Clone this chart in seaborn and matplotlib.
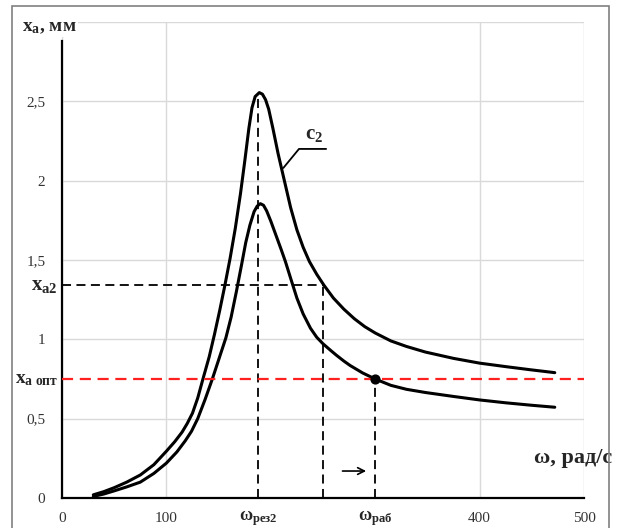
import numpy as np
import pandas as pd
import matplotlib
matplotlib.use("Agg")
import matplotlib.pyplot as plt
import matplotlib.patches as mpatches
import seaborn as sns

# amplitude curves
omega_c2 = [30, 40, 50, 62, 75, 88, 100, 108, 115, 120, 125, 130, 135, 141, 146, 151, 156,
            161, 166, 171, 175, 179, 182, 185, 189, 192, 195, 198, 202, 207, 213, 219,
            225, 231, 237, 244, 251, 260, 270, 280, 290, 300, 315, 330, 348, 375, 400,
            425, 449, 472]
xa_c2 = [0.02, 0.04, 0.065, 0.10, 0.145, 0.21, 0.295, 0.355, 0.415, 0.47, 0.535, 0.63, 0.75,
         0.89, 1.03, 1.18, 1.34, 1.51, 1.7, 1.92, 2.12, 2.33, 2.46, 2.53, 2.555, 2.545,
         2.51, 2.45, 2.33, 2.17, 2.0, 1.83, 1.69, 1.58, 1.49, 1.41, 1.34, 1.26, 1.19,
         1.13, 1.08, 1.04, 0.99, 0.955, 0.92, 0.88, 0.85, 0.828, 0.808, 0.79]

omega_c1 = [30, 40, 50, 62, 75, 88, 100, 110, 118, 124, 130, 137, 144, 150, 157, 162,
            167, 172, 176, 180, 184, 187, 190, 193, 196, 200, 205, 210, 214, 219, 225,
            231, 238, 244, 250, 257, 263, 270, 276, 288, 300, 315, 330, 348, 375, 400,
            425, 449, 472]
xa_c1 = [0.01, 0.025, 0.045, 0.07, 0.10, 0.155, 0.22, 0.29, 0.36, 0.42, 0.5, 0.62, 0.75,
         0.87, 1.01, 1.14, 1.3, 1.47, 1.61, 1.72, 1.805, 1.84, 1.855, 1.845, 1.81, 1.745,
         1.655, 1.565, 1.49, 1.385, 1.26, 1.16, 1.07, 1.013, 0.972, 0.932, 0.899, 0.863,
         0.835, 0.788, 0.75, 0.71, 0.685, 0.665, 0.64, 0.618, 0.60, 0.585, 0.572]

w_res2 = 188
w_rab = 300
w_a2 = 250
xa2 = 1.34
xa_opt = 0.75
xa_peak = 2.55

ytick_vals = [0, 0.5, 1, 1.5, 2, 2.5, 3]
ytick_labels = ["0", "0,5", "1", "1,5", "2", "2,5", ""]
xtick_vals = [0, 100, 400, 500]
xtick_labels = ["0", "100", "400", "500"]

df = pd.concat([
    pd.DataFrame({"omega": omega_c2, "xa": xa_c2, "curve": "c2"}),
    pd.DataFrame({"omega": omega_c1, "xa": xa_c1, "curve": "c1"}),
])

sns.set_theme(style="white")
plt.rcParams["font.family"] = ["Liberation Serif", "DejaVu Serif"]
plt.rcParams["mathtext.fontset"] = "custom"
plt.rcParams["mathtext.rm"] = "Liberation Serif"
plt.rcParams["mathtext.bf"] = "Liberation Serif:bold"
plt.rcParams["mathtext.it"] = "Liberation Serif:italic"

fig = plt.figure(figsize=(6.17, 5.28), dpi=100)
ax = fig.add_axes([62 / 617, 30 / 528, 522 / 617, 476 / 528])

# outer frame
fig.patches.append(mpatches.Rectangle((12 / 617, -0.05), 597 / 617, 1.05 - 6 / 528,
                                      transform=fig.transFigure, fill=False,
                                      edgecolor="#808080", lw=1.2))

sns.lineplot(data=df, x="omega", y="xa", units="curve", estimator=None, sort=False,
             color="black", lw=2.2, ax=ax, legend=False, solid_joinstyle="round")

dash = (0, (5, 3))
ax.axhline(xa_opt, color="#ff2020", lw=1.6, ls=dash, zorder=3)
ax.plot([0, w_a2], [xa2, xa2], color="black", lw=1.3, ls=dash)
ax.plot([w_a2, w_a2], [0, xa2], color="black", lw=1.3, ls=dash)
ax.plot([w_res2, w_res2], [0, xa_peak], color="black", lw=1.3, ls=dash)
ax.plot([w_rab, w_rab], [0, xa_opt], color="black", lw=1.3, ls=dash)
ax.scatter([w_rab], [xa_opt], s=40, color="black", zorder=5)

# c2 label with leader
ax.plot([212, 227, 253], [2.08, 2.20, 2.20], color="black", lw=1.3)
ax.text(241, 2.29, r"$\mathbf{c_2}$", ha="center", va="center", fontsize=15)

# arrow
ax.annotate("", xy=(294, 0.17), xytext=(266, 0.17),
            arrowprops=dict(arrowstyle="->", color="black", lw=1.2))

ax.set_xlim(0, 500)
ax.set_ylim(0, 3)
ax.set_xticks(xtick_vals)
ax.set_xticklabels(xtick_labels)
ax.set_yticks(ytick_vals)
ax.set_yticklabels(ytick_labels)
ax.tick_params(axis="both", length=0, labelsize=11, colors="#333333")
ax.tick_params(axis="y", pad=12)
ax.tick_params(axis="x", pad=10)
ax.grid(True, color="#d9d9d9", lw=1)
ax.set_xlabel("")
ax.set_ylabel("")

for s in ["top", "right"]:
    ax.spines[s].set_visible(False)
ax.spines["left"].set_color("black")
ax.spines["left"].set_linewidth(1.6)
ax.spines["left"].set_bounds(0, 2.88)
ax.spines["bottom"].set_color("black")
ax.spines["bottom"].set_linewidth(1.6)

# text labels
ax.text(-38, 2.965, r"$\mathbf{x_a}$, мм", ha="left", va="center", fontsize=14,
        fontweight="bold", clip_on=False,
        bbox=dict(facecolor="white", edgecolor="none", pad=1))
ax.text(-4, xa2, r"$\mathbf{x_{a2}}$", ha="right", va="center", fontsize=15, clip_on=False)
ax.text(-4, xa_opt, r"$\mathbf{x_{a\ опт}}$", ha="right", va="center", fontsize=14, clip_on=False)
ax.text(527, 0.25, "ω, рад/с", ha="right", va="center", fontsize=16,
        fontweight="bold", clip_on=False)
ax.text(w_res2, -0.125, r"$\mathbf{ω_{рез2}}$", ha="center", va="center", fontsize=13, clip_on=False)
ax.text(w_rab, -0.125, r"$\mathbf{ω_{раб}}$", ha="center", va="center", fontsize=13, clip_on=False)

fig.savefig("out.png", dpi=100)
